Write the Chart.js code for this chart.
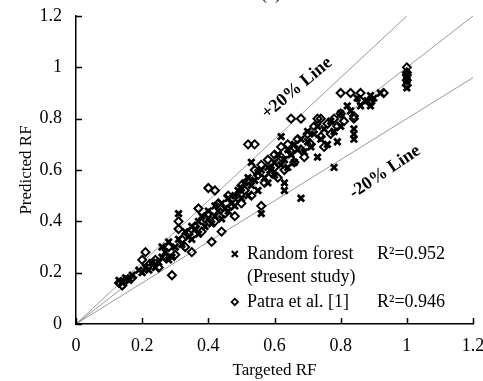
<!DOCTYPE html>
<html><head><meta charset="utf-8">
<script src="https://cdn.jsdelivr.net/npm/chart.js@4/dist/chart.umd.min.js"></script>
<style>html,body{margin:0;padding:0;background:#fff}#wrap{width:483px;height:381px}</style>
</head><body><div id="wrap"><canvas id="c" width="483" height="381"></canvas></div>
<script>
// Random forest (present study)
const rfTargeted  = [0.13,0.14,0.15,0.16,0.17,0.19,0.20,0.21,0.22,0.23,0.24,0.25,0.26,0.26,0.27,0.28,0.28,0.29,0.30,0.31,0.31,0.32,0.33,0.34,0.35,0.35,0.36,0.37,0.37,0.38,0.39,0.40,0.40,0.41,0.42,0.42,0.43,0.44,0.44,0.45,0.46,0.46,0.47,0.48,0.48,0.49,0.50,0.50,0.51,0.52,0.52,0.53,0.53,0.54,0.55,0.55,0.56,0.56,0.57,0.58,0.58,0.59,0.60,0.60,0.61,0.62,0.62,0.63,0.63,0.63,0.64,0.64,0.65,0.66,0.66,0.67,0.68,0.68,0.69,0.70,0.70,0.71,0.72,0.73,0.73,0.74,0.75,0.76,0.77,0.78,0.78,0.79,0.80,0.80,0.82,0.83,0.84,0.84,0.84,0.85,0.86,0.88,0.89,0.89,0.90,0.92,1.00,1.00,1.00];
const rfPredicted = [0.17,0.16,0.18,0.17,0.19,0.21,0.20,0.22,0.21,0.24,0.22,0.24,0.26,0.30,0.28,0.25,0.32,0.26,0.30,0.43,0.33,0.31,0.36,0.34,0.38,0.33,0.37,0.40,0.35,0.42,0.38,0.41,0.44,0.39,0.46,0.42,0.44,0.47,0.41,0.45,0.49,0.44,0.47,0.50,0.46,0.52,0.49,0.53,0.55,0.50,0.57,0.63,0.54,0.56,0.59,0.52,0.43,0.60,0.57,0.61,0.55,0.60,0.63,0.58,0.66,0.62,0.73,0.55,0.52,0.64,0.68,0.61,0.66,0.70,0.63,0.68,0.49,0.72,0.67,0.71,0.75,0.69,0.74,0.65,0.77,0.72,0.76,0.70,0.79,0.61,0.75,0.71,0.82,0.77,0.85,0.83,0.72,0.74,0.76,0.88,0.85,0.87,0.89,0.85,0.88,0.90,0.92,0.95,0.97];
// Patra et al. [1]
const patraTargeted  = [0.13,0.14,0.15,0.17,0.20,0.21,0.22,0.24,0.25,0.27,0.28,0.29,0.30,0.31,0.31,0.32,0.33,0.34,0.35,0.36,0.37,0.38,0.39,0.40,0.40,0.41,0.42,0.42,0.43,0.44,0.45,0.46,0.47,0.48,0.49,0.50,0.50,0.51,0.52,0.52,0.53,0.54,0.54,0.55,0.56,0.56,0.57,0.58,0.59,0.60,0.60,0.61,0.62,0.62,0.63,0.64,0.65,0.65,0.66,0.67,0.68,0.68,0.69,0.70,0.71,0.72,0.73,0.74,0.74,0.75,0.76,0.77,0.78,0.79,0.80,0.80,0.81,0.83,0.84,0.84,0.86,0.86,0.89,0.89,0.93,1.00,1.00,1.00,1.00,1.00];
const patraPredicted = [0.16,0.15,0.17,0.18,0.25,0.28,0.23,0.25,0.22,0.26,0.30,0.19,0.27,0.37,0.40,0.33,0.30,0.35,0.28,0.38,0.45,0.36,0.41,0.53,0.43,0.32,0.52,0.40,0.47,0.36,0.43,0.50,0.46,0.42,0.49,0.54,0.47,0.52,0.70,0.56,0.50,0.70,0.60,0.58,0.46,0.62,0.55,0.64,0.59,0.66,0.61,0.57,0.69,0.65,0.60,0.70,0.80,0.67,0.63,0.72,0.80,0.68,0.65,0.74,0.70,0.77,0.80,0.80,0.73,0.69,0.78,0.74,0.80,0.77,0.90,0.82,0.79,0.90,0.81,0.80,0.90,0.87,0.87,0.86,0.90,0.93,0.95,0.97,0.98,1.00];
// reference lines
const parityX = [0, 1.2],  parityY = [0, 1.2];
const plus20X = [0, 1.0],  plus20Y = [0, 1.2];
const minus20X = [0, 1.2], minus20Y = [0, 0.96];
const legendNames = ['Random forest', '(Present study)', 'Patra et al. [1]'];
const legendR2 = ['R\u00B2=0.952', 'R\u00B2=0.946'];
const lineLabels = ['+20% Line', '-20% Line'];

const pts = (xs, ys) => xs.map((x, i) => ({x, y: ys[i]}));
const SERIF = '"Liberation Serif", "Times New Roman", serif';

function drawCross(ctx, x, y, r) {
  ctx.save(); ctx.strokeStyle = '#000'; ctx.lineWidth = 2.2;
  ctx.beginPath(); ctx.moveTo(x - r, y - r); ctx.lineTo(x + r, y + r);
  ctx.moveTo(x + r, y - r); ctx.lineTo(x - r, y + r); ctx.stroke(); ctx.restore();
}
function drawDiamond(ctx, x, y, r) {
  ctx.save(); ctx.strokeStyle = '#000'; ctx.lineWidth = 1.8;
  ctx.beginPath(); ctx.moveTo(x, y - r); ctx.lineTo(x + r, y); ctx.lineTo(x, y + r); ctx.lineTo(x - r, y); ctx.closePath();
  ctx.stroke(); ctx.restore();
}

const annot = {
  id: 'annot',
  afterDraw(chart) {
    const ctx = chart.ctx, sx = chart.scales.x, sy = chart.scales.y;
    const px = v => sx.getPixelForValue(v), py = v => sy.getPixelForValue(v);
    const ca = chart.chartArea;
    ctx.save();
    // inward tick marks
    ctx.strokeStyle = '#000'; ctx.lineWidth = 1.5;
    ctx.beginPath();
    sx.ticks.forEach(t => { const p = Math.round(px(t.value)) + 0.5; ctx.moveTo(p, ca.bottom); ctx.lineTo(p, ca.bottom - 6); });
    sy.ticks.forEach(t => { const p = Math.round(py(t.value)) + 0.5; ctx.moveTo(ca.left, p); ctx.lineTo(ca.left + 6, p); });
    ctx.stroke();
    ctx.fillStyle = '#000';
    // rotated line labels
    ctx.font = 'bold 18px ' + SERIF;
    ctx.textAlign = 'center'; ctx.textBaseline = 'middle';
    ctx.save(); ctx.translate(px(0.668), py(0.919)); ctx.rotate(-40 * Math.PI / 180);
    ctx.fillText(lineLabels[0], 0, 0); ctx.restore();
    ctx.save(); ctx.translate(px(0.934), py(0.592)); ctx.rotate(-34 * Math.PI / 180);
    ctx.fillText(lineLabels[1], 0, 0); ctx.restore();
    // legend
    ctx.font = '18px ' + SERIF;
    ctx.textAlign = 'left'; ctx.textBaseline = 'middle';
    const mx = px(0.48), tx = px(0.517), rx = px(0.91);
    const r1 = py(0.273), r2 = py(0.183), r3 = py(0.086);
    drawCross(ctx, mx, r1, 3);
    ctx.fillText(legendNames[0], tx, r1);
    ctx.fillText(legendR2[0], rx, r1);
    ctx.fillText(legendNames[1], tx, r2);
    drawDiamond(ctx, mx, r3, 3.2);
    ctx.fillText(legendNames[2], tx, r3);
    ctx.fillText(legendR2[1], rx, r3);
    // clipped panel title
    ctx.textAlign = 'center'; ctx.textBaseline = 'bottom';
    ctx.fillText('(a)', 271, 3);
    ctx.restore();
  }
};

const lineStyle = {type: 'scatter', showLine: true, borderColor: '#808080', borderWidth: 0.8, pointRadius: 0, order: 5};
new Chart(document.getElementById('c'), {
  type: 'scatter',
  data: {
    datasets: [
      {...lineStyle, label: 'y=x', data: pts(parityX, parityY)},
      {...lineStyle, label: '+20%', data: pts(plus20X, plus20Y)},
      {...lineStyle, label: '-20%', data: pts(minus20X, minus20Y)},
      {label: 'Patra et al. [1]', data: pts(patraTargeted, patraPredicted), pointStyle: 'rectRot', pointRadius: 4,
       borderColor: '#000', backgroundColor: 'rgba(0,0,0,0)', borderWidth: 2, order: 2},
      {label: 'Random forest', data: pts(rfTargeted, rfPredicted), pointStyle: 'crossRot', pointRadius: 4.5,
       borderColor: '#000', backgroundColor: '#000', borderWidth: 2.8, order: 1}
    ]
  },
  options: {
    responsive: false, animation: false,
    layout: {padding: {top: 16, right: 10, left: 0, bottom: 0}},
    plugins: {legend: {display: false}, tooltip: {enabled: false}},
    scales: {
      x: {
        type: 'linear', min: 0, max: 1.2,
        ticks: {stepSize: 0.2, color: '#000', font: {family: SERIF, size: 18}, padding: 11,
                callback: v => String(Number(v.toFixed(1)))},
        grid: {drawOnChartArea: false, drawTicks: false, color: '#000'},
        border: {color: '#000', width: 1.5},
        title: {display: true, text: 'Targeted RF', color: '#000', font: {family: SERIF, size: 17}, padding: 0},
        afterFit: s => { s.height = 57; s.paddingLeft = 0; s.paddingRight = 0; }
      },
      y: {
        type: 'linear', min: 0, max: 1.2,
        ticks: {stepSize: 0.2, color: '#000', font: {family: SERIF, size: 18}, padding: 14,
                callback: v => String(Number(v.toFixed(1)))},
        grid: {drawOnChartArea: false, drawTicks: false, color: '#000'},
        border: {color: '#000', width: 1.5},
        title: {display: true, text: 'Predicted RF', color: '#000', font: {family: SERIF, size: 17}, padding: {top: 16, bottom: 0}},
        afterFit: s => { s.width = 76; s.paddingTop = 0; s.paddingBottom = 0; }
      }
    }
  },
  plugins: [annot]
});
</script></body></html>
